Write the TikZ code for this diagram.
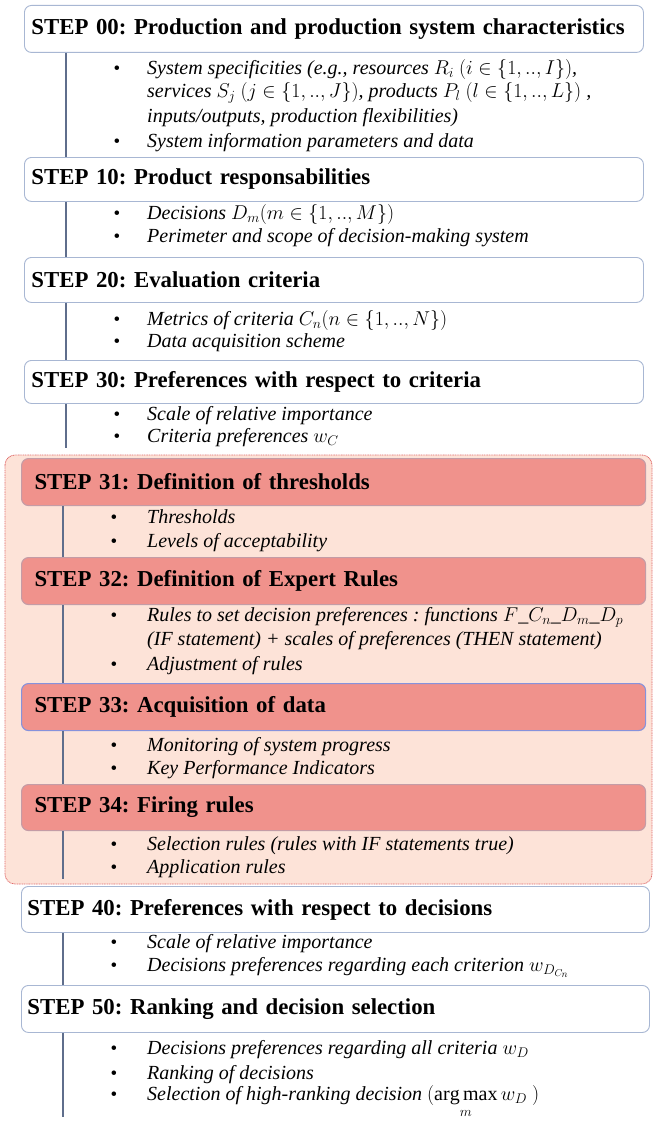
\RequirePackage{fix-cm}
\documentclass[tikz,border=0pt]{standalone}
\usepackage{amsmath}
\usepackage{fontspec}
\setmainfont{Liberation Serif}
\usetikzlibrary{positioning}
\definecolor{boxline}{HTML}{A8B7D3}
\definecolor{stemline}{HTML}{5F6E8C}
\definecolor{redfill}{HTML}{F0928C}
\definecolor{redline}{HTML}{C49CA6}
\definecolor{zonefill}{HTML}{FDE3D8}
\definecolor{zoneline}{HTML}{E06A6A}
\frenchspacing

\begin{document}
\begin{tikzpicture}[x=1pt,y=-1pt]
\tikzset{
  topbox/.style={draw=boxline, line width=0.9pt, rounded corners=7pt, fill=white, anchor=north west,
    inner xsep=7pt, inner ysep=0pt, text width=605pt, align=left, font=\fontsize{22.8}{26}\selectfont\bfseries},
  redbox/.style={topbox, fill=redfill, draw=redline, line width=1.1pt, inner xsep=13pt, text width=598pt},
  lowbox/.style={topbox, inner xsep=6pt, text width=616pt},
  stem/.style={draw=stemline, line width=1.3pt},
  item/.style={anchor=base west, inner sep=0pt, font=\fontsize{20}{23}\selectfont\itshape},
  bul/.style={anchor=base, inner sep=0pt, font=\fontsize{19}{19}\selectfont}
}
\useasboundingbox (0,0) rectangle (654,1121);
\fill[white] (0,0) rectangle (654,1121);

% zone of the expert rules steps
\draw[fill=zonefill, draw=zoneline, line width=0.8pt, dash pattern=on 1pt off 0.7pt, rounded corners=10pt]
  (5,455) rectangle (652,884);

% step boxes
\node[topbox, minimum height=47pt] (s00) at (24,5) {STEP 00: Production and production system characteristics};
\node[topbox, minimum height=44pt] (s10) at (24,157) {STEP 10: Product responsabilities};
\node[topbox, minimum height=45pt] (s20) at (24,257) {STEP 20: Evaluation criteria};
\node[topbox, minimum height=43pt] (s30) at (24,360) {STEP 30: Preferences with respect to criteria};
\node[redbox, minimum height=47pt] (s31) at (21,458) {STEP 31: Definition of thresholds};
\node[redbox, minimum height=47pt] (s32) at (21,557) {STEP 32: Definition of Expert Rules};
\node[redbox, minimum height=47pt, draw=boxline!80!blue] (s33) at (21,683) {STEP 33: Acquisition of data};
\node[redbox, minimum height=46pt] (s34) at (21,784) {STEP 34: Firing rules};
\node[lowbox, minimum height=46pt] (s40) at (21,886) {STEP 40: Preferences with respect to decisions};
\node[lowbox, minimum height=47pt] (s50) at (21,985) {STEP 50: Ranking and decision selection};

% free ends of the stems
\coordinate (e30) at (66,448);
\coordinate (e34) at (63,879);
\coordinate (e50) at (63,1117);

% stems
\draw[stem] ([xshift=42pt]s00.south west) -- ([xshift=42pt]s00.south west |- s10.north);
\draw[stem] ([xshift=42pt]s10.south west) -- ([xshift=42pt]s10.south west |- s20.north);
\draw[stem] ([xshift=42pt]s20.south west) -- ([xshift=42pt]s20.south west |- s30.north);
\draw[stem] ([xshift=42pt]s30.south west) -- (e30);
\draw[stem] ([xshift=42pt]s31.south west) -- ([xshift=42pt]s31.south west |- s32.north);
\draw[stem] ([xshift=42pt]s32.south west) -- ([xshift=42pt]s32.south west |- s33.north);
\draw[stem] ([xshift=42pt]s33.south west) -- ([xshift=42pt]s33.south west |- s34.north);
\draw[stem] ([xshift=42pt]s34.south west) -- (e34);
\draw[stem] ([xshift=42pt]s40.south west) -- ([xshift=42pt]s40.south west |- s50.north);
\draw[stem] ([xshift=42pt]s50.south west) -- (e50);

% step 00
\node[bul] (b00a) at (117,75) {\textbullet};
\node[item] (t00a) at (147,75) {System specificities (e.g., resources $R_i$ $(i\in\{1,..,I\})$,};
\node[item] (t00b) at (147,98) {services $S_j$ $(j\in\{1,..,J\})$, products $P_l$ $(l\in\{1,..,L\})$ ,};
\node[item] (t00c) at (147,122) {inputs/outputs, production flexibilities)};
\node[bul] (b00b) at (117,147) {\textbullet};
\node[item] (t00d) at (147,147) {System information parameters and data};
% step 10
\node[bul] (b10a) at (117,219) {\textbullet};
\node[item] (t10a) at (147,219) {Decisions $D_m(m\in\{1,..,M\})$};
\node[bul] (b10b) at (117,242) {\textbullet};
\node[item] (t10b) at (147,242) {Perimeter and scope of decision-making system};
% step 20
\node[bul] (b20a) at (117,325) {\textbullet};
\node[item] (t20a) at (147,325) {Metrics of criteria $C_n(n\in\{1,..,N\})$};
\node[bul] (b20b) at (117,347) {\textbullet};
\node[item] (t20b) at (147,347) {Data acquisition scheme};
% step 30
\node[bul] (b30a) at (117,420) {\textbullet};
\node[item] (t30a) at (147,420) {Scale of relative importance};
\node[bul] (b30b) at (117,442) {\textbullet};
\node[item] (t30b) at (147,442) {Criteria preferences $w_C$};
% step 31
\node[bul] (b31a) at (114,523) {\textbullet};
\node[item] (t31a) at (147,523) {Thresholds};
\node[bul] (b31b) at (114,547) {\textbullet};
\node[item] (t31b) at (147,547) {Levels of acceptability};
% step 32
\node[bul] (b32a) at (114,621) {\textbullet};
\node[item] (t32a) at (147,621) {Rules to set decision preferences : functions $F$\_$C_n$\_$D_m$\_$D_p$};
\node[item] (t32b) at (147,645) {(IF statement) + scales of preferences (THEN statement)};
\node[bul] (b32b) at (114,670) {\textbullet};
\node[item] (t32c) at (147,670) {Adjustment of rules};
% step 33
\node[bul] (b33a) at (114,751) {\textbullet};
\node[item] (t33a) at (147,751) {Monitoring of system progress};
\node[bul] (b33b) at (114,774) {\textbullet};
\node[item] (t33b) at (147,774) {Key Performance Indicators};
% step 34
\node[bul] (b34a) at (114,850) {\textbullet};
\node[item] (t34a) at (147,850) {Selection rules (rules with IF statements true)};
\node[bul] (b34b) at (114,873) {\textbullet};
\node[item] (t34b) at (147,873) {Application rules};
% step 40
\node[bul] (b40a) at (114,948) {\textbullet};
\node[item] (t40a) at (147,948) {Scale of relative importance};
\node[bul] (b40b) at (114,971) {\textbullet};
\node[item] (t40b) at (147,971) {Decisions preferences regarding each criterion $w_{D_{C_n}}$};
% step 50
\node[bul] (b50a) at (114,1054) {\textbullet};
\node[item] (t50a) at (147,1054) {Decisions preferences regarding all criteria $w_D$};
\node[bul] (b50b) at (114,1079) {\textbullet};
\node[item] (t50b) at (147,1079) {Ranking of decisions};
\node[bul] (b50c) at (114,1100) {\textbullet};
\node[item] (t50c) at (147,1100) {Selection of high-ranking decision $(\mathop{\mathrm{arg\,max}}\limits_m w_D\ )$};
\end{tikzpicture}
\end{document}
